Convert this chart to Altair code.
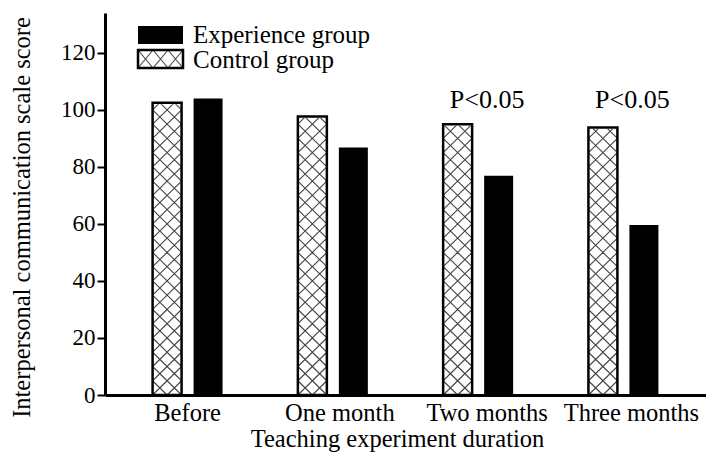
import altair as alt
import pandas as pd

categories = ["Before", "One month", "Two months", "Three months"]
control = [102.5, 97.7, 95.0, 93.8]
experience = [104.0, 86.8, 76.9, 59.6]
p_labels = ["", "", "P<0.05", "P<0.05"]
groups = ["Control group", "Experience group"]
y_ticks = [0, 20, 40, 60, 80, 100, 120]
legend_labels = ["Experience group", "Control group"]

long = pd.DataFrame({
    "category": categories * 2,
    "group": [groups[0]] * len(categories) + [groups[1]] * len(categories),
    "value": control + experience,
})
wide = pd.DataFrame({"category": categories, "control": control,
                     "experience": experience, "p": p_labels})

FONT = "Times New Roman, Liberation Serif, DejaVu Serif, serif"
W, H = 601, 382

# hatch tiles: two X cells across a bar, one row
HATCH = ("M-1,-0.491L0,0.491M0,-0.491L-1,0.491"
         "M0,-0.491L1,0.491M1,-0.491L0,0.491")
LEG_HATCH = ("M-1,-0.4L-0.333,0.4M-0.333,-0.4L-1,0.4"
             "M-0.333,-0.4L0.333,0.4M0.333,-0.4L-0.333,0.4"
             "M0.333,-0.4L1,0.4M1,-0.4L0.333,0.4")

x_scale = alt.Scale(domain=categories, paddingInner=0, paddingOuter=0.0685)
xo_scale = alt.Scale(domain=groups, paddingInner=0.293, paddingOuter=0.918)
y_scale = alt.Scale(domain=[0, 134], nice=False, zero=True)

label_offset = {
    "condition": [
        {"test": "datum.value == 'One month'", "value": 7},
        {"test": "datum.value == 'Two months'", "value": 9},
        {"test": "datum.value == 'Three months'", "value": 8},
    ],
    "value": 0,
}

x_axis = alt.Axis(title="Teaching experiment duration", labelAngle=0, ticks=False,
                  tickSize=0, domainWidth=3, domainColor="black", grid=False,
                  labelFont=FONT, labelFontSize=24.5, labelColor="black",
                  labelBaseline="alphabetic", labelPadding=25,
                  labelOffset=label_offset,
                  titleFont=FONT, titleFontSize=24.5, titleFontWeight="normal",
                  titleColor="black", titleX=292, titleY=51,
                  titleBaseline="alphabetic", titleAlign="center")
y_axis = alt.Axis(title="Interpersonal communication scale score", values=y_ticks,
                  grid=False, tickSize=8, tickWidth=2, tickColor="black",
                  domainWidth=3, domainColor="black",
                  labelFont=FONT, labelFontSize=23, labelColor="black",
                  labelPadding=2,
                  titleFont=FONT, titleFontSize=24.5, titleFontWeight="normal",
                  titleColor="black", titleAngle=270, titleX=-76, titleY=204,
                  titleBaseline="alphabetic", titleAlign="center")


def X():
    return alt.X("category:N", scale=x_scale, sort=categories, axis=x_axis)


def XO():
    return alt.XOffset("group:N", scale=xo_scale)


def Y(field):
    return alt.Y(field, scale=y_scale, axis=y_axis)


base = alt.Chart(long)

hatch = base.transform_filter("datum.group == 'Control group'").transform_calculate(
    tiles="sequence(2.5, datum.value + 2.5, 5)"
).transform_flatten(["tiles"]).mark_point(
    shape=HATCH, size=841, filled=False, stroke="#444444", strokeWidth=1.1, opacity=1
).encode(x=X(), xOffset=XO(), y=Y("tiles:Q"))

cover = base.transform_filter("datum.group == 'Control group'").transform_calculate(
    top="datum.value + 5"
).mark_bar(fill="white", stroke="white", strokeWidth=3).encode(
    x=X(), xOffset=XO(), y=Y("value:Q"), y2="top:Q")

outline = base.transform_filter("datum.group == 'Control group'").mark_bar(
    fill="white", fillOpacity=0, stroke="black", strokeWidth=2.5
).encode(x=X(), xOffset=XO(), y=Y("value:Q"))

exp_bars = base.transform_filter("datum.group == 'Experience group'").mark_bar(
    color="black"
).encode(x=X(), xOffset=XO(), y=Y("value:Q"))

ptext = alt.Chart(wide).transform_filter("datum.p != ''").transform_joinaggregate(
    pmax="max(control)"
).mark_text(font=FONT, fontSize=26, dx=9, dy=-16, baseline="alphabetic",
            align="center", color="black").encode(
    x=X(), y=Y("pmax:Q"), text="p:N")

leg1 = pd.DataFrame({"label": [legend_labels[0]]})
leg2 = pd.DataFrame({"label": [legend_labels[1]]})

leg_exp_rect = alt.Chart(leg1).mark_rect(color="black").encode(
    x=alt.value(33), x2=alt.value(78), y=alt.value(13), y2=alt.value(31))
leg_exp_text = alt.Chart(leg1).mark_text(
    font=FONT, fontSize=25, align="left", baseline="alphabetic", color="black"
).encode(x=alt.value(88), y=alt.value(30), text="label:N")

leg_ctl_hatch = alt.Chart(leg2).mark_point(
    shape=LEG_HATCH, size=2025, filled=False, stroke="#444444", strokeWidth=1.1, opacity=1
).encode(x=alt.value(55.5), y=alt.value(46))
leg_ctl_rect = alt.Chart(leg2).mark_rect(
    fill="white", fillOpacity=0, stroke="black", strokeWidth=2.5
).encode(x=alt.value(33), x2=alt.value(78), y=alt.value(37), y2=alt.value(55))
leg_ctl_text = alt.Chart(leg2).mark_text(
    font=FONT, fontSize=25, align="left", baseline="alphabetic", color="black"
).encode(x=alt.value(88), y=alt.value(55), text="label:N")

chart = alt.layer(
    hatch, cover, outline, exp_bars, ptext,
    leg_exp_rect, leg_exp_text, leg_ctl_hatch, leg_ctl_rect, leg_ctl_text
).properties(
    width=W, height=H,
    autosize=alt.AutoSizeParams(type="none"),
    padding={"left": 97, "top": 5, "right": 0, "bottom": 61},
    background="white",
).configure_view(stroke=None)

chart.save("out.html", embed_options={"renderer": "svg", "actions": False})
